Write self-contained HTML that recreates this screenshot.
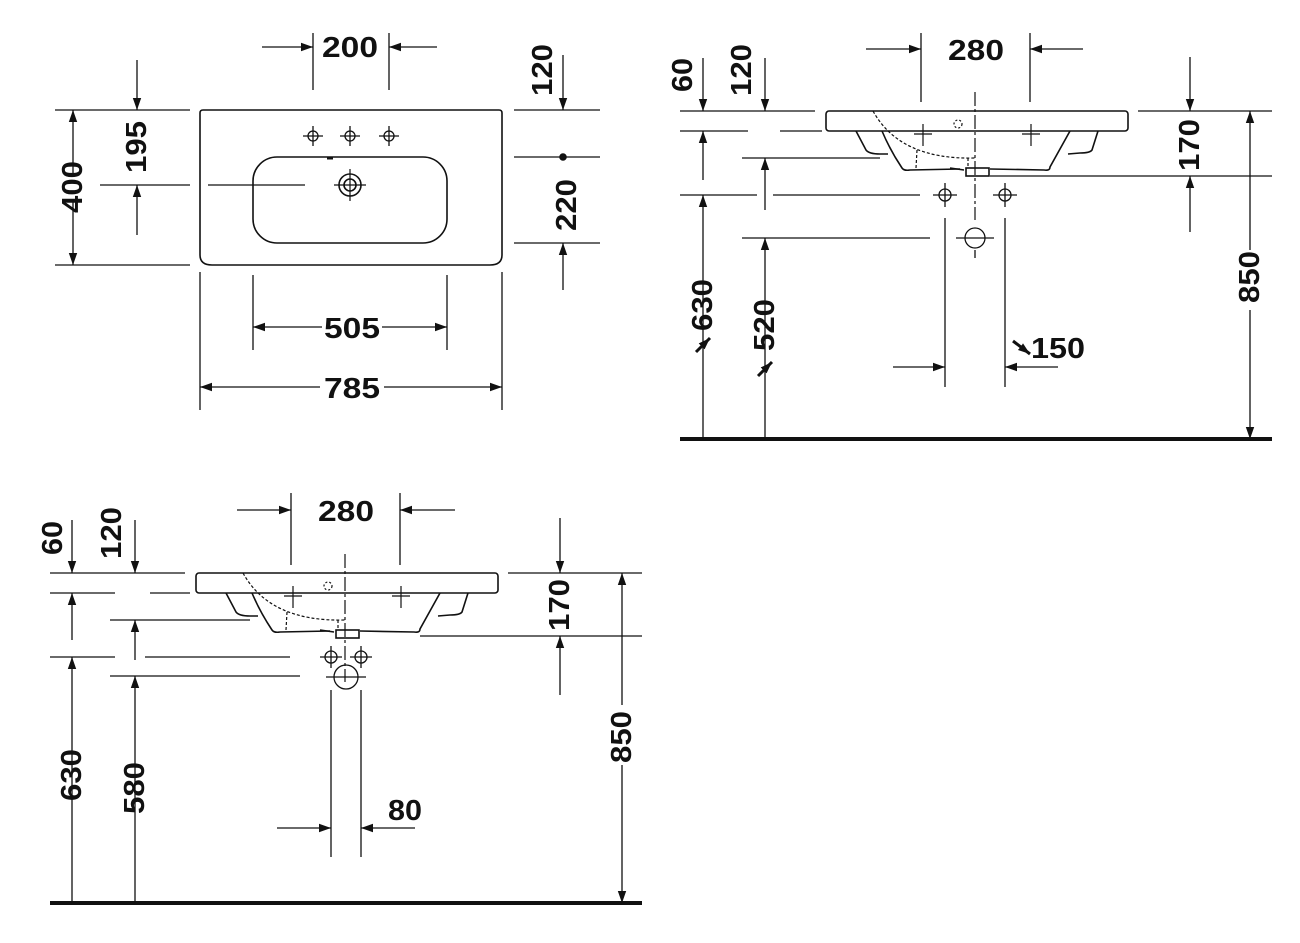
<!DOCTYPE html>
<html><head><meta charset="utf-8"><style>
html,body{margin:0;padding:0;background:#fff;}
svg{display:block}
text{font-family:"Liberation Sans",sans-serif;font-weight:bold;font-size:29px;fill:#111}
</style></head><body>
<svg width="1300" height="943" viewBox="0 0 1300 943" xmlns="http://www.w3.org/2000/svg">
<defs>
<marker id="a" viewBox="0 0 10 10" refX="10" refY="5" markerWidth="12" markerHeight="12" markerUnits="userSpaceOnUse" orient="auto"><path d="M0,1.5 L10,5 L0,8.5 z" fill="#111"/></marker>
<g id="basin" fill="none" stroke="#111" stroke-width="1.6">
<rect x="826" y="111" width="302" height="20" rx="3"/>
<path d="M856,131 L866,150 Q869,154 880,154 L888,154"/>
<path d="M882,131 Q890,150 902,168 Q904,171 910,170 L960,169"/>
<path d="M990,169 L1044,170 Q1050,171 1050,167 L1070,131"/>
<path d="M1098,131 L1092,150 Q1090,153 1080,153 L1068,154"/>
<rect x="966" y="168" width="23" height="8"/>
<path d="M950,168 L964,170" />
<path d="M873,111 Q900,160 975,158" stroke-dasharray="3,2" stroke-width="1.2"/>
<path d="M917,150 L916,168 M968,158 L968,168" stroke-dasharray="3,2" stroke-width="1.2"/>
<circle cx="958" cy="124" r="4" stroke-dasharray="2,2" stroke-width="1.2"/>
<path d="M914,134 h18 M923,124 v22 M1022,134 h18 M1031,124 v22" stroke-width="1.2"/>
<path d="M975,92 V220" stroke-dasharray="14,3,3,3" stroke-width="1.2"/>
</g>
</defs>

<g fill="none" stroke="#111" stroke-width="1.6">
<!-- TOP VIEW -->
<path d="M203,110 H499 Q502,110 502,113 V255 Q502,265 490,265 H212 Q200,265 200,255 V113 Q200,110 203,110 Z"/>
<rect x="253" y="157" width="194" height="86" rx="24"/>
<circle cx="350" cy="185" r="11"/><circle cx="350" cy="185" r="6"/>
<path d="M334,185 h32 M350,169 v32" stroke-width="1.2"/>
<g stroke-width="1.3">
<circle cx="313" cy="136" r="5"/><path d="M303,136 h20 M313,126 v20"/>
<circle cx="350" cy="136" r="5"/><path d="M340,136 h20 M350,126 v20"/>
<circle cx="389" cy="136" r="5"/><path d="M379,136 h20 M389,126 v20"/>
</g>
<path d="M327,158 h6" stroke-width="3"/>
<path d="M208,185 H305" stroke-width="1.3"/>
<g stroke-width="1.3">
<path d="M313,33 V90 M389,33 V90"/>
<path d="M55,110 H190 M55,265 H190 M100,185 H190"/>
<path d="M514,110 H600 M514,157 H600 M514,243 H600"/>
<path d="M253,275 V350 M447,275 V350 M200,272 V410 M502,272 V410"/>
</g>
<circle cx="563" cy="157" r="3" fill="#111"/>
<g stroke-width="1.3" marker-end="url(#a)">
<path d="M262,47 H313"/><path d="M437,47 H389"/>
<path d="M137,60 V110"/><path d="M137,235 V185"/>
<path d="M73,175 V110"/><path d="M73,200 V265"/>
<path d="M563,55 V110"/><path d="M563,290 V243"/>
<path d="M322,327 H253"/><path d="M382,327 H447"/>
<path d="M320,387 H200"/><path d="M384,387 H502"/>
</g>

<!-- RIGHT ELEVATION -->
<use href="#basin"/>
<path d="M680,439 H1272" stroke-width="4"/>
<g stroke-width="1.3">
<path d="M921,33 V102 M1030,33 V102"/>
<path d="M680,111 H815 M680,131 H748 M780,131 H822 M742,158 H880 M680,195 H757 M773,195 H920 M742,238 H930"/>
<path d="M1138,111 H1272 M990,176 H1272"/>
<circle cx="945" cy="195" r="6"/><path d="M933,195 h24 M945,183 v24"/>
<circle cx="1005" cy="195" r="6"/><path d="M993,195 h24 M1005,183 v24"/>
<circle cx="975" cy="238" r="10"/><path d="M956,238 h38"/>
<path d="M975,250 V258" />
<path d="M945,218 V387 M1005,218 V387"/>
</g>
<g stroke-width="1.3" marker-end="url(#a)">
<path d="M866,49 H921"/><path d="M1083,49 H1030"/>
<path d="M703,58 V111"/><path d="M765,58 V111"/>
<path d="M703,180 V131"/><path d="M765,210 V158"/>
<path d="M703,439 V195"/><path d="M765,439 V238"/>
<path d="M893,367 H945"/><path d="M1058,367 H1005"/>
<path d="M1190,57 V111"/><path d="M1190,232 V176"/>
<path d="M1250,250 V111"/><path d="M1250,310 V439"/>
</g>
<g stroke-width="3" marker-end="url(#a)">
<path d="M696,352 L710,338"/><path d="M758,376 L772,362"/><path d="M1013,341 L1030,354"/>
</g>

<!-- BOTTOM ELEVATION -->
<use href="#basin" transform="translate(-630,462)"/>
<path d="M50,903 H642" stroke-width="4"/>
<g stroke-width="1.3">
<path d="M291,493 V565 M400,493 V565"/>
<path d="M50,573 H185 M50,593 H115 M150,593 H190 M110,620 H250 M50,657 H115 M145,657 H290 M110,676 H300"/>
<path d="M508,573 H642 M420,636 H642"/>
<circle cx="331" cy="657" r="6"/><path d="M320,657 h22 M331,646 v22"/>
<circle cx="361" cy="657" r="6"/><path d="M350,657 h22 M361,646 v22"/>
<circle cx="346" cy="677" r="12"/><path d="M326,677 h40"/>
<path d="M331,690 V857 M361,690 V857"/>
</g>
<g stroke-width="1.3" marker-end="url(#a)">
<path d="M237,510 H291"/><path d="M455,510 H400"/>
<path d="M72,520 V573"/><path d="M135,520 V573"/>
<path d="M72,640 V593"/><path d="M135,660 V620"/>
<path d="M72,903 V657"/><path d="M135,903 V676"/>
<path d="M277,828 H331"/><path d="M415,828 H361"/>
<path d="M560,518 V573"/><path d="M560,695 V636"/>
<path d="M622,705 V573"/><path d="M622,765 V903"/>
</g>
</g>

<!-- TEXT -->
<g text-anchor="middle">
<text x="350" y="57" textLength="56" lengthAdjust="spacingAndGlyphs">200</text>
<text x="352" y="338" textLength="56" lengthAdjust="spacingAndGlyphs">505</text>
<text x="352" y="398" textLength="56" lengthAdjust="spacingAndGlyphs">785</text>
<text x="976" y="60" textLength="56" lengthAdjust="spacingAndGlyphs">280</text>
<text x="1058" y="358" textLength="54" lengthAdjust="spacingAndGlyphs">150</text>
<text x="346" y="521" textLength="56" lengthAdjust="spacingAndGlyphs">280</text>
<text x="405" y="820" textLength="34" lengthAdjust="spacingAndGlyphs">80</text>
</g>
<g text-anchor="middle" dominant-baseline="central">
<text transform="translate(73,187) rotate(-90)" textLength="52" lengthAdjust="spacingAndGlyphs">400</text>
<text transform="translate(137,147) rotate(-90)" textLength="52" lengthAdjust="spacingAndGlyphs">195</text>
<text transform="translate(543,70) rotate(-90)" textLength="52" lengthAdjust="spacingAndGlyphs">120</text>
<text transform="translate(567,205) rotate(-90)" textLength="52" lengthAdjust="spacingAndGlyphs">220</text>
<text transform="translate(683,75) rotate(-90)" textLength="34" lengthAdjust="spacingAndGlyphs">60</text>
<text transform="translate(742,70) rotate(-90)" textLength="52" lengthAdjust="spacingAndGlyphs">120</text>
<text transform="translate(703,305) rotate(-90)" textLength="52" lengthAdjust="spacingAndGlyphs">630</text>
<text transform="translate(765,325) rotate(-90)" textLength="52" lengthAdjust="spacingAndGlyphs">520</text>
<text transform="translate(1190,145) rotate(-90)" textLength="52" lengthAdjust="spacingAndGlyphs">170</text>
<text transform="translate(1250,277) rotate(-90)" textLength="52" lengthAdjust="spacingAndGlyphs">850</text>
<text transform="translate(53,538) rotate(-90)" textLength="34" lengthAdjust="spacingAndGlyphs">60</text>
<text transform="translate(112,533) rotate(-90)" textLength="52" lengthAdjust="spacingAndGlyphs">120</text>
<text transform="translate(72,775) rotate(-90)" textLength="52" lengthAdjust="spacingAndGlyphs">630</text>
<text transform="translate(135,788) rotate(-90)" textLength="52" lengthAdjust="spacingAndGlyphs">580</text>
<text transform="translate(560,605) rotate(-90)" textLength="52" lengthAdjust="spacingAndGlyphs">170</text>
<text transform="translate(622,737) rotate(-90)" textLength="52" lengthAdjust="spacingAndGlyphs">850</text>
</g>
</svg>
</body></html>
